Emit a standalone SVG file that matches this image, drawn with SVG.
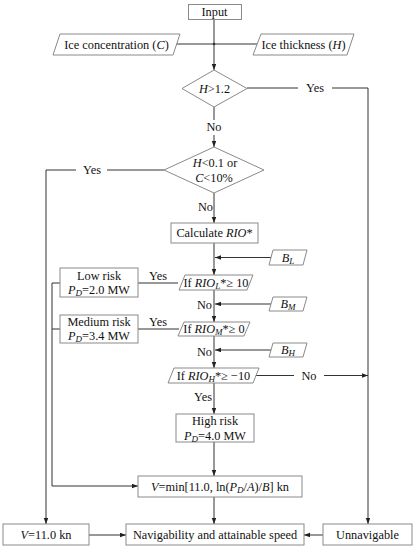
<svg xmlns="http://www.w3.org/2000/svg" width="415" height="550" viewBox="0 0 415 550">
<defs>
<marker id="ah" markerUnits="userSpaceOnUse" markerWidth="7" markerHeight="5" refX="6" refY="2.25" orient="auto">
<path d="M0,0 L6,2.25 L0,4.5 z" fill="#222"/>
</marker>
</defs>
<style>
.s{fill:#fff;stroke:#8a8a8a;stroke-width:1}
.c{fill:none;stroke:#333;stroke-width:1}
.a{marker-end:url(#ah)}
text{font-family:"Liberation Serif","Times New Roman",serif;font-size:12.3px;fill:#111;text-anchor:middle;dominant-baseline:central}
.i{font-style:italic}
.sb{font-size:9px;font-style:italic}
</style>
<rect width="415" height="550" fill="#fff"/>
<g id="connectors">
<path class="c a" d="M214,19 V70"/>
<path class="c" d="M177,44 H257"/>
<circle cx="214" cy="44" r="1.3" fill="#333"/>
<path class="c" d="M247,88 H298"/>
<path class="c a" d="M332,88 H368 V524"/>
<path class="c" d="M214,107 V120"/>
<path class="c a" d="M214,135 V147"/>
<path class="c" d="M164,170 H107"/>
<path class="c a" d="M76,170 H46 V524"/>
<path class="c a" d="M214,193 V223"/>
<path class="c a" d="M214,243 V275"/>
<path class="c a" d="M271,257.5 H215"/>
<path class="c" d="M178,283 H138"/>
<path class="c a" d="M60,283 H52 V486 H138"/>
<path class="c" d="M60,329 H52"/>
<path class="c a" d="M214,290 V322"/>
<path class="c a" d="M271,304 H215"/>
<path class="c" d="M179,329 H138"/>
<path class="c a" d="M214,336 V368"/>
<path class="c a" d="M271,350 H215"/>
<path class="c" d="M255,375.5 H294"/>
<path class="c a" d="M324,375.5 H368"/>
<path class="c a" d="M214,383 V414"/>
<path class="c a" d="M214,442 V476"/>
<path class="c a" d="M214,497 V524"/>
<path class="c a" d="M89,535 H126"/>
<path class="c a" d="M323,535 H304"/>
<text x="315" y="88">Yes</text>
<text x="214" y="127">No</text>
<text x="92" y="170">Yes</text>
<text x="213" y="207" style="text-anchor:end">No</text>
<text x="158" y="276">Yes</text>
<text x="212" y="305" style="text-anchor:end">No</text>
<text x="158" y="322">Yes</text>
<text x="212" y="352" style="text-anchor:end">No</text>
<text x="309" y="375.5">No</text>
<text x="212" y="397" style="text-anchor:end">Yes</text>
</g>
<g id="input">
<rect class="s" x="188.5" y="4.5" width="53" height="15"/>
<text x="214.5" y="12">Input</text>
</g>
<g id="ice-concentration">
<polygon class="s" points="60,34 180,34 173,55 53,55"/>
<text x="116.5" y="44.5">Ice concentration (<tspan class="i">C</tspan>)</text>
</g>
<g id="ice-thickness">
<polygon class="s" points="261,34 354,34 347,55 253,55"/>
<text x="303.5" y="44.5">Ice thickness (<tspan class="i">H</tspan>)</text>
</g>
<g id="decision-h12">
<polygon class="s" points="214,70 247,88.5 214,107 182,88.5"/>
<text x="214.5" y="88.5"><tspan class="i">H</tspan>&gt;1.2</text>
</g>
<g id="decision-low-ice">
<polygon class="s" points="214,147 264,170 214,193 164,170"/>
<text x="215" y="163"><tspan class="i">H</tspan>&lt;0.1 or</text>
<text x="214" y="178"><tspan class="i">C</tspan>&lt;10%</text>
</g>
<g id="calculate">
<rect class="s" x="171" y="223" width="87" height="20"/>
<text x="214.5" y="233">Calculate <tspan class="i">RIO</tspan>*</text>
</g>
<g id="bl">
<polygon class="s" points="273,250 307,250 303,265 269,265"/>
<text x="288" y="257.5"><tspan class="i">B</tspan><tspan class="sb" dy="3">L</tspan></text>
</g>
<g id="if-rio-l">
<polygon class="s" points="185,275 253,275 247,290 179,290"/>
<text x="216" y="283">If <tspan class="i">RIO</tspan><tspan class="sb" dy="3">L</tspan><tspan dy="-3">*≥ 10</tspan></text>
</g>
<g id="low-risk">
<rect class="s" x="60" y="268" width="78" height="29"/>
<text x="99" y="275.5">Low risk</text>
<text x="99" y="290"><tspan class="i">P</tspan><tspan class="sb" dy="3">D</tspan><tspan dy="-3">=2.0 MW</tspan></text>
</g>
<g id="bm">
<polygon class="s" points="273,297 307,297 303,311 269,311"/>
<text x="288" y="304"><tspan class="i">B</tspan><tspan class="sb" dy="3">M</tspan></text>
</g>
<g id="if-rio-m">
<polygon class="s" points="184,322 250,322 244,336 178,336"/>
<text x="214" y="329">If <tspan class="i">RIO</tspan><tspan class="sb" dy="3">M</tspan><tspan dy="-3">*≥ 0</tspan></text>
</g>
<g id="medium-risk">
<rect class="s" x="60" y="315" width="78" height="28"/>
<text x="99" y="322">Medium risk</text>
<text x="99" y="336"><tspan class="i">P</tspan><tspan class="sb" dy="3">D</tspan><tspan dy="-3">=3.4 MW</tspan></text>
</g>
<g id="bh">
<polygon class="s" points="273,343 307,343 303,357 269,357"/>
<text x="288" y="350"><tspan class="i">B</tspan><tspan class="sb" dy="3">H</tspan></text>
</g>
<g id="if-rio-h">
<polygon class="s" points="174,368 259,368 253,383 168,383"/>
<text x="213.5" y="375.5">If <tspan class="i">RIO</tspan><tspan class="sb" dy="3">H</tspan><tspan dy="-3">*≥ −10</tspan></text>
</g>
<g id="high-risk">
<rect class="s" x="176" y="414" width="78" height="28"/>
<text x="215" y="421">High risk</text>
<text x="215" y="435.5"><tspan class="i">P</tspan><tspan class="sb" dy="3">D</tspan><tspan dy="-3">=4.0 MW</tspan></text>
</g>
<g id="speed-formula">
<rect class="s" x="138" y="476" width="164" height="21"/>
<text x="220" y="486.5"><tspan class="i">V</tspan>=min[11.0, ln(<tspan class="i">P</tspan><tspan class="sb" dy="3">D</tspan><tspan dy="-3">/</tspan><tspan class="i">A</tspan>)/<tspan class="i">B</tspan>] kn</text>
</g>
<g id="v11">
<rect class="s" x="3" y="524" width="86" height="21"/>
<text x="46" y="534.5"><tspan class="i">V</tspan>=11.0 kn</text>
</g>
<g id="navigability">
<rect class="s" x="126" y="524" width="178" height="21"/>
<text x="215" y="534.5">Navigability and attainable speed</text>
</g>
<g id="unnavigable">
<rect class="s" x="323" y="524" width="89" height="21"/>
<text x="367.5" y="534.5">Unnavigable</text>
</g>
</svg>
